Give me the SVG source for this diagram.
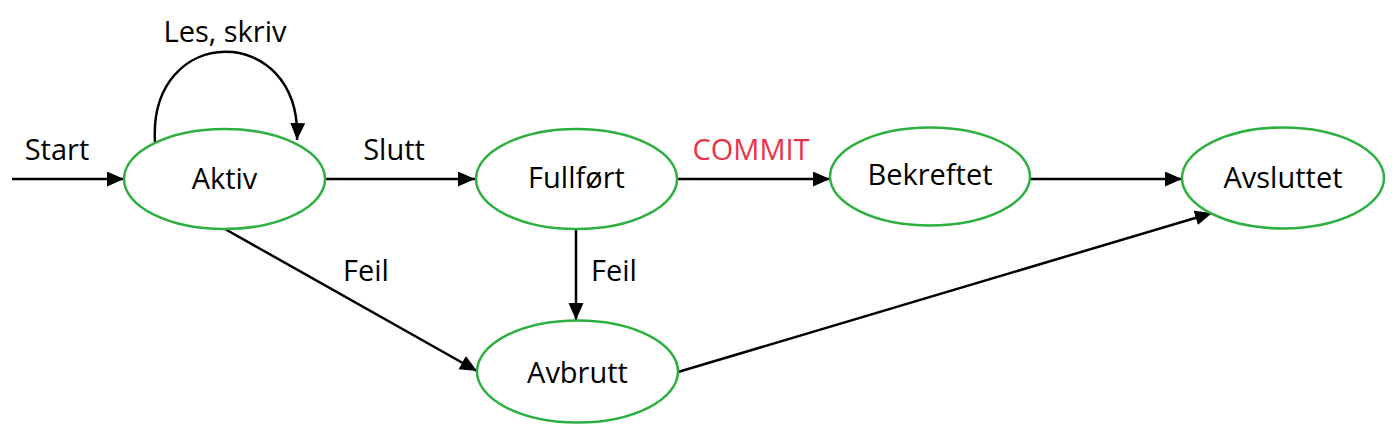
<svg xmlns="http://www.w3.org/2000/svg" width="1392" height="430" viewBox="0 0 1392 430">
<style>
.node{fill:#fff;stroke:#2DB040;stroke-width:2.5}
.lbl{font-family:"Open Sans","Liberation Sans",sans-serif;font-size:29px;fill:#000;text-anchor:middle}
.edge{fill:none;stroke:#000;stroke-width:2.5;marker-end:url(#ah)}
</style>
<defs>
<marker id="ah" markerUnits="userSpaceOnUse" markerWidth="18" markerHeight="16" refX="17" refY="7.5" orient="auto">
<path d="M0,0 L17,7.5 L0,15 z" fill="#000"/>
</marker>
</defs>
<rect width="1392" height="430" fill="#fff"/>
<g id="connectors">
<line class="edge" x1="12" y1="179" x2="124" y2="179"/>
<path class="edge" d="M155,142 C148,22 302,22 297,140"/>
<line class="edge" x1="325" y1="179" x2="475" y2="179"/>
<line class="edge" x1="677" y1="179" x2="830" y2="179"/>
<line class="edge" x1="1030" y1="179" x2="1182" y2="179"/>
<line class="edge" x1="576" y1="229" x2="576" y2="320"/>
<line class="edge" x1="225" y1="229" x2="477" y2="371"/>
<line class="edge" x1="678" y1="372" x2="1212" y2="213"/>
<text class="lbl" x="225" y="42">Les, skriv</text>
<text class="lbl" x="57" y="160">Start</text>
<text class="lbl" x="394" y="160">Slutt</text>
<text class="lbl" x="751" y="160" style="fill:#E8334A">COMMIT</text>
<text class="lbl" x="366" y="281">Feil</text>
<text class="lbl" x="614" y="281">Feil</text>
</g>
<g id="aktiv"><ellipse class="node" cx="224.5" cy="179" rx="100.5" ry="50"/><text class="lbl" x="224.5" y="189">Aktiv</text></g>
<g id="fullfort"><ellipse class="node" cx="576.5" cy="179" rx="100.5" ry="50"/><text class="lbl" x="576.5" y="188">Fullført</text></g>
<g id="bekreftet"><ellipse class="node" cx="930" cy="176.5" rx="100" ry="49"/><text class="lbl" x="930" y="185">Bekreftet</text></g>
<g id="avsluttet"><ellipse class="node" cx="1283" cy="178" rx="101" ry="50.5"/><text class="lbl" x="1283" y="188">Avsluttet</text></g>
<g id="avbrutt"><ellipse class="node" cx="577.5" cy="371.5" rx="100.5" ry="51"/><text class="lbl" x="577.5" y="383">Avbrutt</text></g>
</svg>
